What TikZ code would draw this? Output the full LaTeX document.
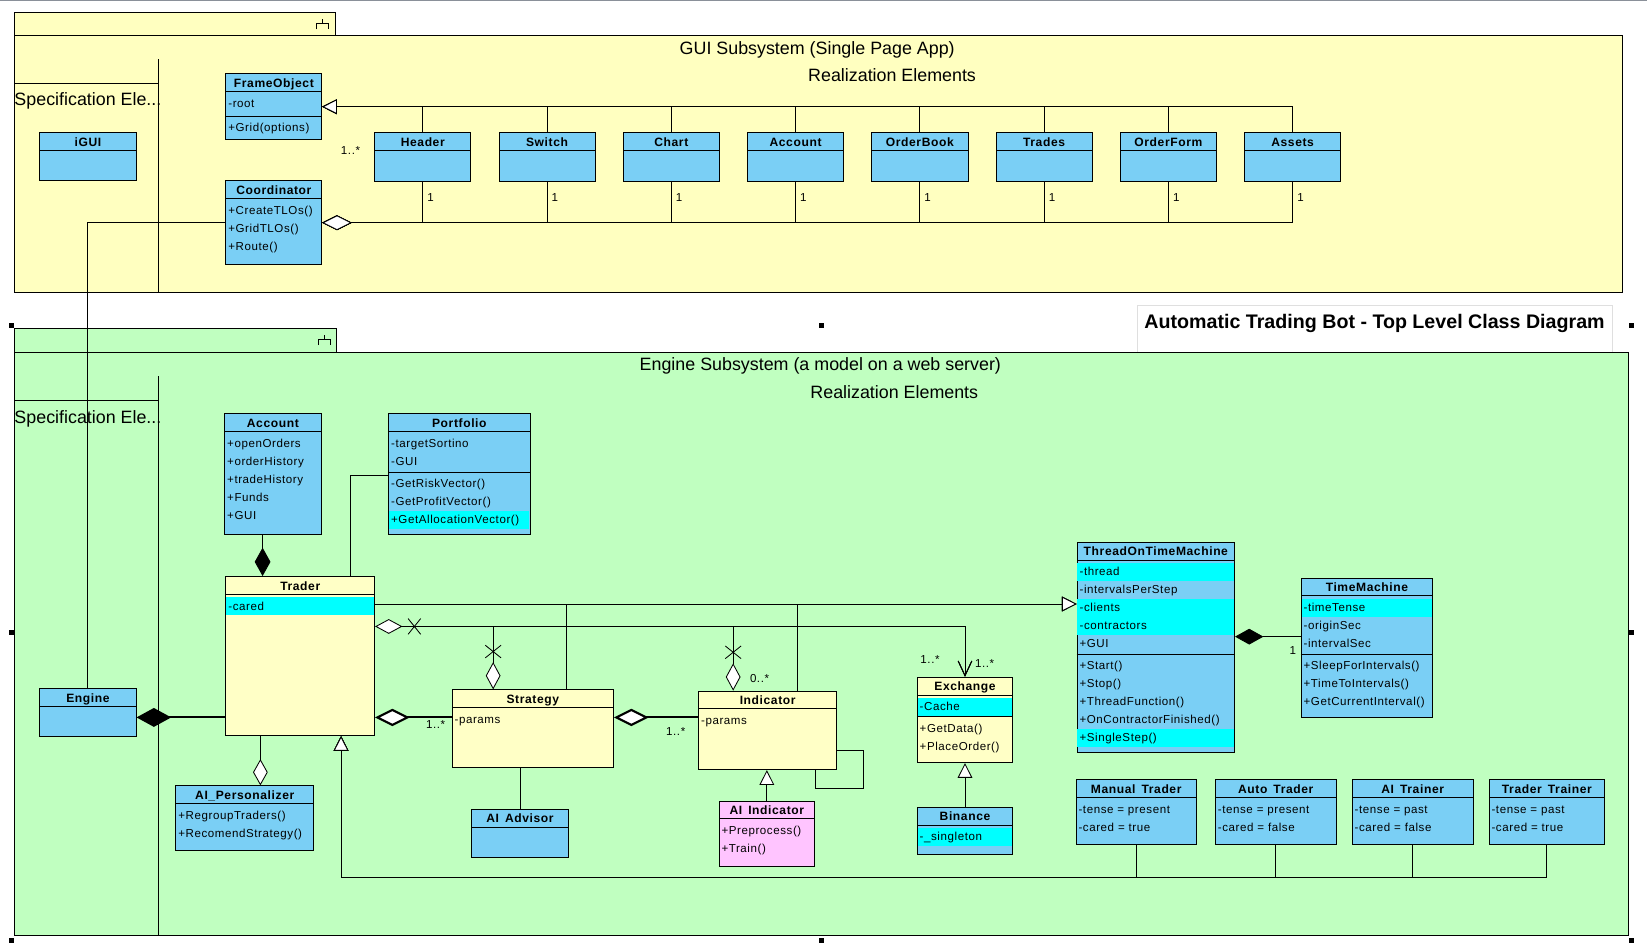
\documentclass[tikz,border=0pt]{standalone}
\usepackage{fontspec}
\setmainfont{Liberation Sans}
\newfontfamily\umlfont[LetterSpace=5]{Liberation Sans}
\usetikzlibrary{positioning,arrows.meta,calc}
\definecolor{pkgyel}{HTML}{FFFFC0}
\definecolor{pkggrn}{HTML}{C0FFC0}
\definecolor{clsblue}{HTML}{7ACFF5}
\definecolor{clsyel}{HTML}{FFFFC6}
\definecolor{clspink}{HTML}{FFC4FF}
\definecolor{hilite}{HTML}{00FFFF}
\definecolor{rim}{HTML}{8A9099}

% class box with its name compartment
\newcommand\umlclass[6]{%
  \node[clsbox, fill=#5, minimum width=#3, minimum height=#4] (#1) at (#2) {};
  \node[clshd, minimum width=#3] (#1h) at (#1.north west) {#6};}
% rows of one compartment: class, offset below name, width, text/fill list
\newcommand\umlrows[4]{%
  \pgfmathsetmacro\umlrw{#3-5.2}
  \foreach \rtxt/\rfill [count=\i from 0] in {#4}
    \node[clsrow, fill=\rfill, text width=\umlrw pt]
      at ([xshift=0.6pt, yshift=-(#2+2.4+\i*17.14)]#1h.south west) {\rtxt};}
\newcommand\umlsep[3]{\draw[cn] ([yshift=-#2]#1h.south west) -- ++(#3,0);}

\begin{document}
\begin{tikzpicture}[x=1pt, y=-1pt,
  pkg/.style={draw, anchor=north west, inner sep=0pt, line width=0.8pt},
  pkgtitle/.style={inner sep=0pt, text height=12pt, text depth=3.5pt, font=\fontsize{17}{20}\selectfont},
  clsbox/.style={draw, anchor=north west, inner sep=0pt, line width=0.8pt},
  clshd/.style={draw, anchor=north west, inner sep=0pt, line width=0.8pt, minimum height=17pt,
                text height=10.2pt, text depth=0.8pt, font=\umlfont\bfseries\fontsize{11.5}{12}\selectfont},
  clsrow/.style={anchor=north west, inner xsep=2pt, inner ysep=0pt, minimum height=17.14pt,
                text height=9pt, text depth=2pt, align=left, font=\umlfont\fontsize{11}{12}\selectfont},
  mult/.style={inner sep=0pt, font=\umlfont\fontsize{11}{12}\selectfont},
  cn/.style={line width=0.8pt},
  heavy/.style={line width=2pt},
  gen/.style={cn, -{Triangle[length=14pt, width=14pt, fill=white]}},
  agg/.style={cn, -{Diamond[length=28pt, width=14pt, fill=white]}},
  comp/.style={cn, -{Diamond[length=27pt, width=15pt]}},
  nav/.style={cn, {Diamond[length=26pt, width=14pt, fill=white]}-{Straight Barb[length=14pt, width=13pt]}},
  xmark/.pic={\draw[cn] (-6,-7.5) -- (6,7.5) (-6,7.5) -- (6,-7.5);},
  tabicon/.pic={\draw[cn] (0,0) -- (0,3.8) (-5.9,9.5) -- (-5.9,3.8) -- (5.9,3.8) -- (5.9,9.5);}]
\fill[white] (0,0) rectangle (1568,903);
\useasboundingbox (0,0) rectangle (1568,903);
\draw[rim, line width=1.2pt] (0,0.6) -- (1568,0.6);

% diagram title
\node[draw=gray!25, fill=white, anchor=north west, inner sep=0pt, minimum width=451.6, minimum height=45] (ttl) at (1082.6,290.4) {};
\node[inner sep=0pt, font=\bfseries\fontsize{18.7}{22}\selectfont] (ttltxt) at ([yshift=-17.4pt]ttl.north) {Automatic Trading Bot - Top Level Class Diagram};

% GUI package
\node[pkg, fill=pkgyel, minimum width=304.9, minimum height=22.2] (guitab) at (13.6,11.1) {};
\node[pkg, fill=pkgyel, minimum width=1530.4, minimum height=245] (gui) at (13.6,33.3) {};
\pic at (306.9,18.4) {tabicon};
\draw[cn] (150.6,56.5) -- (gui.south -| 150.6,0);
\draw[cn] (gui.west |- 0,79.3) -- (150.6,79.3);
\node[pkgtitle, anchor=west] (guispec) at (gui.west |- 0,96.3) {Specification Ele...};
\node[pkgtitle] (guititle) at (778,47.5) {GUI Subsystem (Single Page App)};
\node[pkgtitle] (guireal) at (849.3,73.8) {Realization Elements};

% Engine package
\node[pkg, fill=pkggrn, minimum width=306, minimum height=22.8] (engtab) at (13.6,312.6) {};
\node[pkg, fill=pkggrn, minimum width=1536, minimum height=554.7] (eng) at (13.6,335.4) {};
\pic at (308.9,319) {tabicon};
\draw[cn] (150.6,358) -- (eng.south -| 150.6,0);
\draw[cn] (eng.west |- 0,380.8) -- (150.6,380.8);
\node[pkgtitle, anchor=west] (engspec) at (eng.west |- 0,398.8) {Specification Ele...};
\node[pkgtitle] (engtitle) at (781,348.6) {Engine Subsystem (a model on a web server)};
\node[pkgtitle] (engreal) at (851.4,375.6) {Realization Elements};
\foreach \hx/\hy in {11.2/310, 782.5/310, 1553.4/310, 11.2/602.3, 1553.4/602.3, 11.2/895.5, 782.5/895.5, 1553.4/895.5}
  \fill (\hx,\hy) +(-2.4,-2.4) rectangle +(2.4,2.4);

% GUI classes
\umlclass{frame}{214.6,69.8}{91.4}{62.8}{clsblue}{FrameObject}
\umlrows{frame}{0}{91.4}{-root/none}
\umlsep{frame}{23.3}{91.4}
\umlrows{frame}{23.3}{91.4}{+Grid(options)/none}
\umlclass{igui}{37.4,126}{91.8}{45.7}{clsblue}{iGUI}
\umlclass{coord}{214.6,171.7}{91.4}{79.9}{clsblue}{Coordinator}
\umlrows{coord}{0}{91.4}{+CreateTLOs()/none,+GridTLOs()/none,+Route()/none}
\foreach \n/\t [count=\i from 0] in {hdr/Header,sw/Switch,chart/Chart,gacc/Account,ob/OrderBook,trd/Trades,of/OrderForm,ast/Assets}
  \umlclass{\n}{356.3+\i*118.3,126}{91.6}{46}{clsblue}{\t};

% Engine classes
\umlclass{acct}{213.5,393.5}{91.8}{115.2}{clsblue}{Account}
\umlrows{acct}{0}{91.8}{+openOrders/none,+orderHistory/none,+tradeHistory/none,+Funds/none,+GUI/none}
\umlclass{port}{369.6,393.5}{134.6}{115.2}{clsblue}{Portfolio}
\umlrows{port}{0}{134.6}{-targetSortino/none,-GUI/none}
\umlsep{port}{38.5}{134.6}
\umlrows{port}{38.5}{134.6}{-GetRiskVector()/none,-GetProfitVector()/none,+GetAllocationVector()/hilite}
\umlclass{trader}{214.6,548.4}{141.7}{151.6}{clsyel}{Trader}
\umlrows{trader}{0}{141.7}{-cared/hilite}
\umlclass{engine}{37.4,655.3}{91.8}{45.7}{clsblue}{Engine}
\umlclass{aipers}{167,747.7}{131.2}{61.5}{clsblue}{AI\_Personalizer}
\umlrows{aipers}{0}{131.2}{+RegroupTraders()/none,+RecomendStrategy()/none}
\umlclass{strat}{430,656.3}{153.8}{73.9}{clsyel}{Strategy}
\umlrows{strat}{0}{153.8}{-params/none}
\umlclass{aiadv}{448.8,769.9}{91.7}{45.7}{clsblue}{AI\enspace Advisor}
\umlclass{ind}{664.7,657.5}{131.5}{74.9}{clsyel}{Indicator}
\umlrows{ind}{0}{131.5}{-params/none}
\umlclass{aiind}{684.1,762.2}{91.1}{61.9}{clspink}{AI\enspace Indicator}
\umlrows{aiind}{0}{91.1}{+Preprocess()/none,+Train()/none}
\umlclass{exch}{872.8,644.2}{91}{81.5}{clsyel}{Exchange}
\umlrows{exch}{0}{91}{-Cache/hilite}
\umlsep{exch}{20.5}{91}
\umlrows{exch}{20.5}{91}{+GetData()/none,+PlaceOrder()/none}
\umlclass{binance}{872.8,768}{91}{45.3}{clsblue}{Binance}
\umlrows{binance}{0}{91}{-\_singleton/hilite}
\umlclass{totm}{1025,515.7}{150}{200}{clsblue}{ThreadOnTimeMachine}
\umlrows{totm}{0}{150}{-thread/hilite,-intervalsPerStep/none,-clients/hilite,-contractors/hilite,+GUI/none}
\umlsep{totm}{89.3}{150}
\umlrows{totm}{89.3}{150}{+Start()/none,+Stop()/none,+ThreadFunction()/none,+OnContractorFinished()/none,+SingleStep()/hilite}
\umlclass{tm}{1238.3,549.9}{125.3}{133}{clsblue}{TimeMachine}
\umlrows{tm}{0}{125.3}{-timeTense/hilite,-originSec/none,-intervalSec/none}
\umlsep{tm}{55.1}{125.3}
\umlrows{tm}{55.1}{125.3}{+SleepForIntervals()/none,+TimeToIntervals()/none,+GetCurrentInterval()/none}
\umlclass{manual}{1024,741.9}{114.6}{61.9}{clsblue}{Manual\enspace Trader}
\umlrows{manual}{0}{114.6}{-tense = present/none,-cared = true/none}
\umlclass{auto}{1156.7,741.9}{114.9}{61.9}{clsblue}{Auto\enspace Trader}
\umlrows{auto}{0}{114.9}{-tense = present/none,-cared = false/none}
\umlclass{aitrain}{1286.9,741.9}{115.3}{61.9}{clsblue}{AI\enspace Trainer}
\umlrows{aitrain}{0}{115.3}{-tense = past/none,-cared = false/none}
\umlclass{ttrain}{1417.2,741.9}{110.1}{61.9}{clsblue}{Trader\enspace Trainer}
\umlrows{ttrain}{0}{110.1}{-tense = past/none,-cared = true/none}

% GUI connectors
\foreach \n in {hdr,sw,chart,gacc,ob,trd,of,ast}{
  \draw[gen] (\n.north) |- (frame);
  \draw[agg] (\n.south) |- (coord);
  \node[mult] at ([xshift=7.5pt, yshift=-15.5pt]\n.south) {1};
}
\node[mult] (m0) at (333.7,143.5) {1..*};
\draw[cn] (coord) -| (engine);

% Engine connectors
\draw[heavy, -{Diamond[length=33pt, width=18pt]}] (trader.west |- 0,683) -- (engine.east |- 0,683);
\draw[comp] (acct.south -| 250,0) -- (trader.north -| 250,0);
\draw[cn] (port.west |- 0,452.5) -| (trader.north -| 333.9,0);
\draw[heavy, -{Diamond[length=33pt, width=16.5pt, fill=white]}] (strat.west |- 0,683) -- (trader.east |- 0,683);
\draw[heavy, -{Diamond[length=33pt, width=16.5pt, fill=white]}] (ind.west |- 0,683) -- (strat.east |- 0,683);
\coordinate (gj) at (totm.west |- 0,575);
\draw[gen] (trader.east |- gj) -- (gj);
\draw[gen] (strat.north -| 539.6,0) |- (gj);
\draw[gen] (ind.north -| 758.8,0) |- (gj);
\coordinate (xj) at (exch.north |- 0,596.4);
\draw[nav] (trader.east |- xj) -- (xj) -- (exch.north);
\draw[nav] (strat.north -| 469.5,0) |- (xj) -- (exch.north);
\draw[nav] (ind.north -| 698,0) |- (xj) -- (exch.north);
\pic at ($(trader.east |- xj)+(37.4,0)$) {xmark};
\pic[rotate=90] at ($(strat.north -| 469.5,0)+(0,-36)$) {xmark};
\pic[rotate=90] at ($(ind.north -| 698,0)+(0,-36.5)$) {xmark};
\draw[comp] (tm.west |- 0,606.1) -- (totm.east |- 0,606.1);
\draw[cn] (ind.east |- 0,714.3) -| (821.8,750.5) -| (ind.south -| 776.6,0);
\draw[gen] (aiind.north) -- (aiind.north |- ind.south);
\draw[gen] (binance.north) -- (exch.south);
\coordinate (tb) at (324.7,835.2);
\foreach \n in {manual,auto,aitrain,ttrain}
  \draw[gen] (\n.south) |- (tb) -- (tb |- trader.south);
\draw[cn, -{Diamond[length=25pt, width=14pt, fill=white]}] (trader.south -| 247.9,0) -- (aipers.north -| 247.9,0);
\draw[cn] (aiadv.north) -- (aiadv.north |- strat.south);

% multiplicities
\node[mult] (m1) at (414.8,690.2) {1..*};
\node[mult] (m2) at (643.3,696) {1..*};
\node[mult] (m3) at (723.1,645.8) {0..*};
\node[mult] (m4) at (885.4,627.7) {1..*};
\node[mult] (m5) at (937.4,631.5) {1..*};
\node[mult] (m6) at (1230.8,619.4) {1};
\end{tikzpicture}
\end{document}
